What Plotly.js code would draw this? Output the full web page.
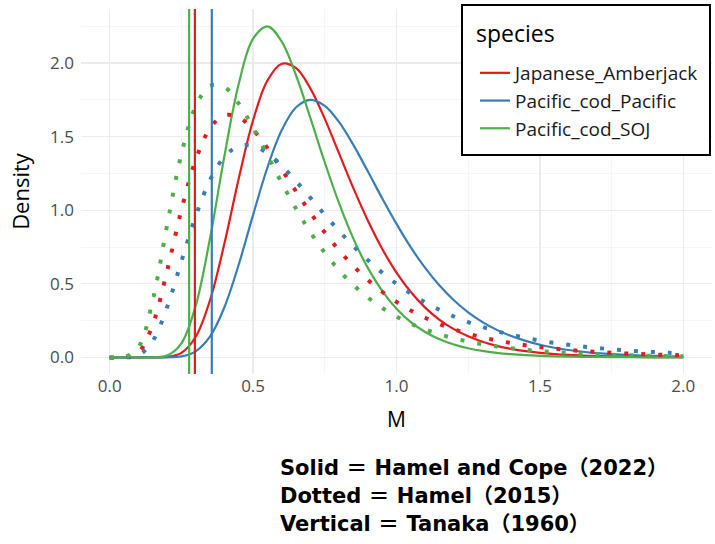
<!DOCTYPE html>
<html>
<head>
<meta charset="utf-8">
<script src="https://cdn.plot.ly/plotly-3.0.1.min.js"></script>
<style>html,body{margin:0;padding:0;background:#fff;}#chart{width:715px;height:544px;}</style>
</head>
<body>
<div id="chart"></div>
<script>
// M grid (x values)
const M = [0,0.05,0.1,0.15,0.2,0.25,0.3,0.35,0.4,0.45,0.5,0.55,0.6,0.65,0.7,0.75,0.8,0.85,0.9,0.95,1.0,1.05,1.1,1.15,1.2,1.25,1.3,1.35,1.4,1.45,1.5,1.55,1.6,1.65,1.7,1.75,1.8,1.85,1.9,1.95,2.0];

const species = ["Japanese_Amberjack", "Pacific_cod_Pacific", "Pacific_cod_SOJ"];
const colors = ["#E41A1C", "#377EB8", "#4DAF4A"];

// Solid = Hamel and Cope (2022)
const solidAmberjack = [0,0,0,0.0001,0.0029,0.0304,0.140,0.390,0.774,1.216,1.611,1.881,1.995,1.965,1.826,1.620,1.384,1.148,0.930,0.738,0.576,0.444,0.338,0.255,0.192,0.143,0.106,0.0783,0.0577,0.0424,0.0311,0.0228,0.0167,0.0122,0.0089,0.0065,0.0048,0.0035,0.0026,0.0019,0.0014];
const solidCodPacific = [0,0,0,0,0.0005,0.0070,0.0414,0.1426,0.341,0.631,0.968,1.290,1.544,1.699,1.750,1.709,1.598,1.442,1.264,1.081,0.907,0.747,0.608,0.488,0.388,0.306,0.240,0.187,0.145,0.112,0.0860,0.0659,0.0504,0.0385,0.0294,0.0224,0.0171,0.0130,0.0099,0.0075,0.0057];
const solidCodSOJ = [0,0,0,0.0004,0.0121,0.0953,0.352,0.811,1.368,1.859,2.165,2.249,2.145,1.915,1.625,1.324,1.046,0.805,0.608,0.452,0.331,0.240,0.173,0.124,0.0880,0.0625,0.0441,0.0311,0.0219,0.0154,0.0109,0.0076,0.0054,0.0038,0.0027,0.0019,0.0013,0.0009,0.0007,0.0005,0.0003];

// Dotted = Hamel (2015)
const dottedAmberjack = [0,0.0003,0.033,0.223,0.587,1.001,1.342,1.557,1.645,1.631,1.547,1.421,1.276,1.127,0.982,0.848,0.727,0.620,0.526,0.446,0.377,0.318,0.269,0.227,0.191,0.162,0.136,0.115,0.0976,0.0827,0.0701,0.0595,0.0506,0.0430,0.0367,0.0313,0.0268,0.0229,0.0196,0.0169,0.0145];
const dottedCodPacific = [0,0.0001,0.0135,0.1115,0.341,0.652,0.960,1.205,1.363,1.435,1.437,1.387,1.302,1.197,1.084,0.969,0.859,0.755,0.661,0.576,0.500,0.433,0.374,0.323,0.278,0.240,0.207,0.178,0.154,0.133,0.114,0.0988,0.0854,0.0738,0.0639,0.0553,0.0480,0.0416,0.0362,0.0315,0.0274];
const dottedCodSOJ = [0,0.0008,0.069,0.387,0.897,1.381,1.705,1.845,1.835,1.724,1.559,1.373,1.185,1.009,0.850,0.711,0.592,0.491,0.407,0.336,0.278,0.229,0.190,0.157,0.130,0.108,0.0892,0.0742,0.0617,0.0515,0.0430,0.0359,0.0301,0.0253,0.0213,0.0179,0.0151,0.0128,0.0108,0.0092,0.0078];

// Vertical = Tanaka (1960)
const tanakaM = [0.297, 0.356, 0.277];

const xTickVals = [0, 0.5, 1, 1.5, 2];
const xTickText = ["0.0", "0.5", "1.0", "1.5", "2.0"];
const yTickVals = [0, 0.5, 1, 1.5, 2];
const yTickText = ["0.0", "0.5", "1.0", "1.5", "2.0"];
const legendTitle = "species";
const noteLines = ["Solid ＝ Hamel and Cope（2022）", "Dotted ＝ Hamel（2015）", "Vertical ＝ Tanaka（1960）"];

const solids = [solidAmberjack, solidCodPacific, solidCodSOJ];
const dotteds = [dottedAmberjack, dottedCodPacific, dottedCodSOJ];

const traces = [];
for (let i = 0; i < species.length; i++) {
  traces.push({
    type: "scatter", mode: "lines", x: M, y: solids[i], name: species[i],
    legendgroup: species[i], showlegend: true,
    line: {color: colors[i], width: 2.2, shape: "spline", smoothing: 1},
    hoverinfo: "skip"
  });
}
for (let i = 0; i < species.length; i++) {
  traces.push({
    type: "scatter", mode: "lines", x: M, y: dotteds[i], name: species[i],
    legendgroup: species[i], showlegend: false,
    line: {color: colors[i], width: 4, shape: "spline", smoothing: 1, dash: "4px,13px"},
    hoverinfo: "skip"
  });
}

const shapes = tanakaM.map((v, i) => ({
  type: "line", xref: "x", yref: "paper", x0: v, x1: v, y0: 0, y1: 1,
  line: {color: colors[i], width: 2.2}, layer: "above"
}));
// legend box
shapes.push({
  type: "rect", xref: "paper", yref: "paper",
  x0: (462 - 81) / 631, x1: (710 - 81) / 631,
  y0: (374 - 155) / 365, y1: (374 - 5) / 365,
  line: {color: "#000", width: 2}, fillcolor: "#fff", layer: "above"
});

const font = "Open Sans, DejaVu Sans, sans-serif";
const annotations = noteLines.map((t, i) => ({
  text: t, xref: "paper", yref: "paper",
  x: (278 - 81) / 631, y: (374 - (468 + 28 * i)) / 365,
  xanchor: "left", yanchor: "middle", align: "left", showarrow: false,
  font: {family: "DejaVu Sans, Noto Sans CJK JP", size: 21, color: "#000", weight: 700}
}));
annotations.push({
  text: legendTitle, xref: "paper", yref: "paper",
  x: (474 - 81) / 631, y: (374 - 33) / 365,
  xanchor: "left", yanchor: "middle", showarrow: false,
  font: {family: font, size: 23, color: "#000"}
});

const layout = {
  width: 715, height: 544,
  margin: {l: 81, r: 3, t: 9, b: 170},
  paper_bgcolor: "#fff", plot_bgcolor: "#fff",
  font: {family: font},
  showlegend: true,
  legend: {
    x: (475 - 81) / 631, y: (374 - 54) / 365, xanchor: "left", yanchor: "top",
    bgcolor: "rgba(0,0,0,0)", borderwidth: 0,
    font: {family: font, size: 19, color: "#1a1a1a"},
    traceorder: "grouped", tracegroupgap: 0
  },
  xaxis: {
    range: [-0.1, 2.1], tickvals: xTickVals, ticktext: xTickText,
    showgrid: true, gridcolor: "#EBEBEB", gridwidth: 1.3,
    minor: {tickvals: [0.25, 0.75, 1.25, 1.75], showgrid: true, gridcolor: "#F2F2F2", gridwidth: 0.8},
    zeroline: false, showline: false, ticks: "",
    tickfont: {family: font, size: 17, color: "#4D4D4D"},
    title: {text: "M", font: {family: font, size: 21, color: "#000"}, standoff: 16}
  },
  yaxis: {
    range: [-0.1127, 2.3667], tickvals: yTickVals, ticktext: yTickText,
    showgrid: true, gridcolor: "#EBEBEB", gridwidth: 1.3,
    minor: {tickvals: [0.25, 0.75, 1.25, 1.75, 2.25], showgrid: true, gridcolor: "#F2F2F2", gridwidth: 0.8},
    zeroline: false, showline: false, ticks: "",
    tickfont: {family: font, size: 17, color: "#4D4D4D"},
    ticklabelstandoff: 6,
    title: {text: "Density", font: {family: font, size: 22, color: "#000"}, standoff: 14}
  },
  shapes: shapes,
  annotations: annotations
};

Plotly.newPlot("chart", traces, layout, {displayModeBar: false, staticPlot: true});
</script>
</body>
</html>
